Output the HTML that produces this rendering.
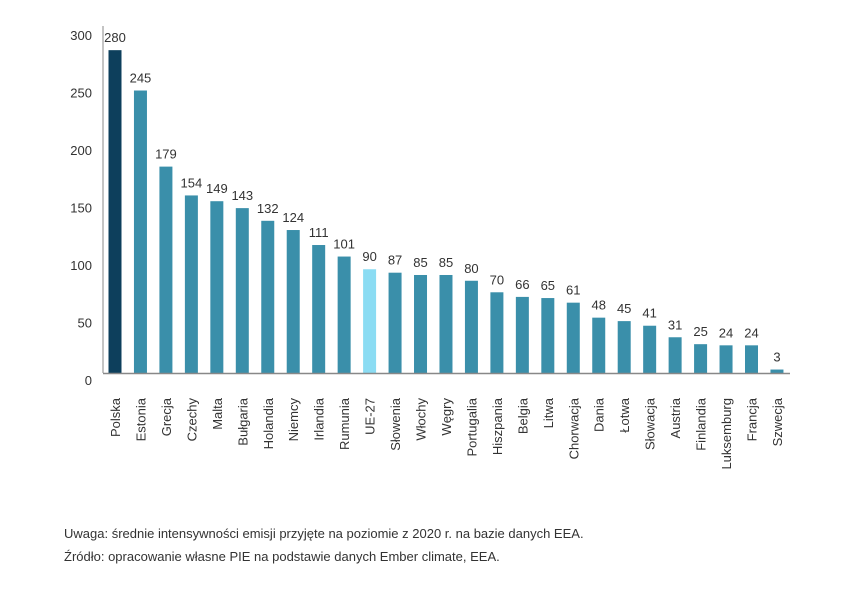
<!DOCTYPE html>
<html><head><meta charset="utf-8"><style>
body{margin:0;background:#fff;width:842px;height:599px;overflow:hidden;font-family:"Liberation Sans",sans-serif}
.note{position:absolute;left:64px;font-size:13px;color:#333}
</style></head><body>
<svg id="chart" width="842" height="599" style="position:absolute;left:0;top:0" font-family="Liberation Sans, sans-serif"></svg>
<div class="note" style="top:526px">Uwaga: średnie intensywności emisji przyjęte na poziomie z 2020 r. na bazie danych EEA.</div>
<div class="note" style="top:549px">Źródło: opracowanie własne PIE na podstawie danych Ember climate, EEA.</div>
<script>
const categories=["Polska","Estonia","Grecja","Czechy","Malta","Bułgaria","Holandia","Niemcy","Irlandia","Rumunia","UE-27","Słowenia","Włochy","Węgry","Portugalia","Hiszpania","Belgia","Litwa","Chorwacja","Dania","Łotwa","Słowacja","Austria","Finlandia","Luksemburg","Francja","Szwecja"];
const values=[280,245,179,154,149,143,132,124,111,101,90,87,85,85,80,70,66,65,61,48,45,41,31,25,24,24,3];
const yTicks=[0,50,100,150,200,250,300];
const svg=document.getElementById('chart');const NS='http://www.w3.org/2000/svg';
function mk(t,a,txt){const e=document.createElementNS(NS,t);for(const k in a)e.setAttribute(k,a[k]);if(txt!==undefined)e.textContent=txt;svg.appendChild(e);return e;}
const base=373,k=1.153;
const y=v=>base-v*k;
const x=i=>115+i*25.46;
const tickY=v=>380-v*1.15;
yTicks.forEach(t=>{const e=mk('text',{x:92,y:tickY(t)+5,'text-anchor':'end','font-size':13,fill:'#333'},t);

});
let ax=mk('line',{x1:103,y1:26,x2:103,y2:373,stroke:'#888','stroke-width':1});

categories.forEach((c,i)=>{
 const col=i==0?'#0d3f5c':(c=='UE-27'?'#8bdcf3':'#3a8faa');
 const r=mk('rect',{x:x(i)-6.5,y:y(values[i]),width:13,height:values[i]*k,fill:col});
 
 
 const vl=mk('text',{x:x(i),y:y(values[i])-8,'text-anchor':'middle','font-size':13,fill:'#333'},values[i]);
 
 
 const cl=mk('text',{transform:`translate(${x(i)+5},398) rotate(-90)`,'text-anchor':'end','font-size':13,fill:'#333'},c);
 
 
});
let bx=mk('line',{x1:103,y1:373.5,x2:790,y2:373.5,stroke:'#888','stroke-width':1.5});

</script>
</body></html>
